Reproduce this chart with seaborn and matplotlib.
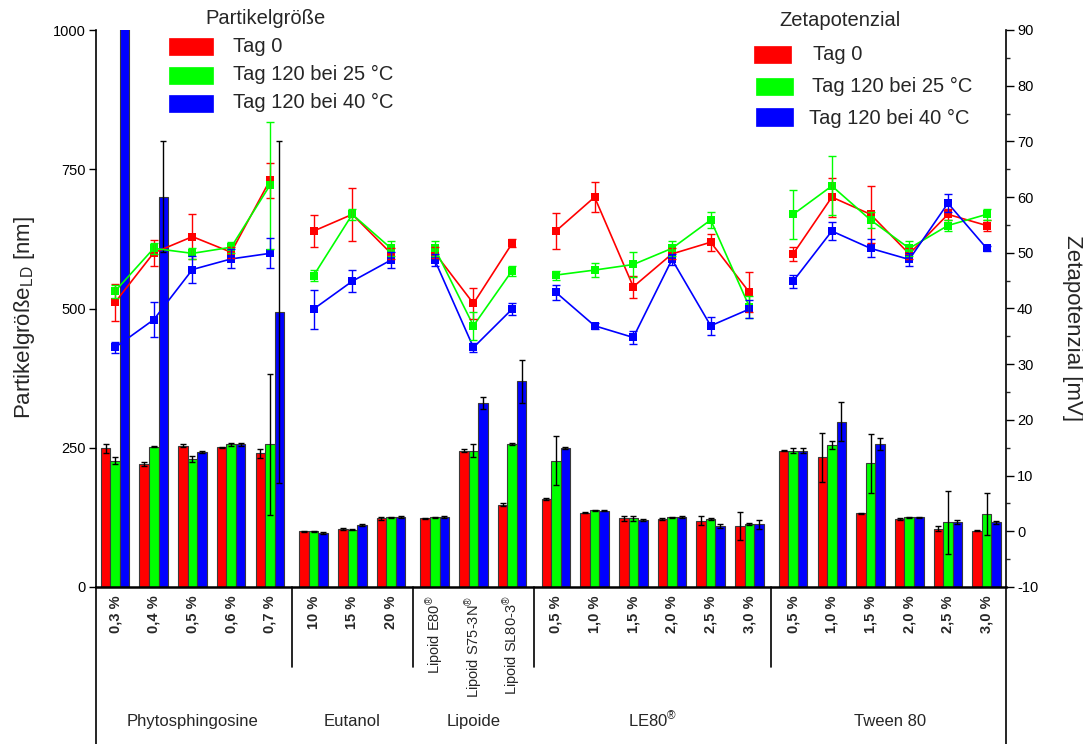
import numpy as np
import pandas as pd
import matplotlib
matplotlib.use("Agg")
import matplotlib.pyplot as plt
import seaborn as sns
from matplotlib.patches import Rectangle
from matplotlib.lines import Line2D
from matplotlib.ticker import MultipleLocator
import matplotlib.transforms as mtransforms

# ---------------- data ----------------
group_names = ["Phytosphingosine", "Eutanol", "Lipoide", "LE80$^{®}$", "Tween 80"]
group_sizes = [5, 3, 3, 6, 6]
tick_labels = ["0,3 %", "0,4 %", "0,5 %", "0,6 %", "0,7 %",
               "10 %", "15 %", "20 %",
               "Lipoid E80$^{®}$", "Lipoid S75-3N$^{®}$", "Lipoid SL80-3$^{®}$",
               "0,5 %", "1,0 %", "1,5 %", "2,0 %", "2,5 %", "3,0 %",
               "0,5 %", "1,0 %", "1,5 %", "2,0 %", "2,5 %", "3,0 %"]
series_names = ["Tag 0", "Tag 120 bei 25 °C", "Tag 120 bei 40 °C"]
series_colors = ["#FF0000", "#00FF00", "#0000FF"]

# particle size (nm), left axis, bars
size_t0 = [249, 221, 254, 251, 240, 100, 104, 123, 123, 245, 148, 158, 133, 123, 122, 119, 110, 245, 233, 132, 122, 105, 101]
size_t0_err = [8, 3, 3, 1, 8, 1, 2, 2, 1, 2, 2, 2, 1, 5, 1, 8, 25, 1, 44, 1, 1, 5, 1]
size_t25 = [227, 252, 230, 256, 256, 100, 103, 125, 125, 245, 257, 227, 138, 123, 125, 122, 113, 245, 255, 222, 125, 116, 131]
size_t25_err = [7, 1, 5, 2, 127, 1, 1, 1, 1, 11, 2, 44, 1, 4, 1, 1, 2, 5, 8, 53, 1, 57, 38]
size_t40 = [1240, 701, 243, 256, 493, 97, 111, 126, 126, 331, 369, 250, 137, 120, 125, 110, 113, 245, 297, 257, 125, 117, 116]
size_t40_err = [0, 100, 2, 3, 307, 1, 2, 2, 2, 11, 39, 2, 1, 2, 2, 4, 8, 4, 35, 11, 1, 3, 2]

# zeta potential (mV), right axis, lines
zeta_t0 = [41.1, 50.0, 52.9, 50.1, 63.0, 53.9, 56.9, 49.9, 50.0, 40.9, 51.7, 53.9, 60.0, 43.9, 49.8, 51.9, 42.9, 49.8, 60.0, 56.9, 49.8, 56.9, 54.9]
zeta_t0_err = [3.3, 2.3, 4.1, 1.0, 3.1, 2.8, 4.8, 1.0, 1.0, 2.7, 0.7, 3.2, 2.7, 2.0, 1.0, 1.5, 3.6, 1.2, 3.5, 5.1, 1.0, 1.0, 1.0]
zeta_t25 = [43.1, 50.8, 49.9, 51.0, 62.1, 45.9, 56.9, 50.8, 50.8, 36.9, 46.8, 46.0, 46.9, 47.9, 50.8, 55.9, 40.3, 56.9, 62.0, 55.9, 50.8, 54.9, 56.9]
zeta_t25_err = [1.2, 1.0, 1.0, 1.0, 11.4, 1.0, 1.0, 1.4, 1.4, 2.5, 0.9, 0.8, 1.3, 2.2, 1.3, 1.5, 2.0, 4.4, 5.3, 1.5, 1.3, 1.0, 1.0]
zeta_t40 = [33.0, 38.0, 47.0, 48.9, 49.9, 39.9, 44.9, 48.7, 48.7, 33.0, 39.9, 42.9, 36.9, 34.8, 48.8, 36.9, 39.9, 44.9, 53.9, 50.8, 48.8, 58.9, 50.8]
zeta_t40_err = [1.0, 3.2, 2.4, 1.7, 2.7, 3.5, 2.0, 1.4, 1.0, 0.8, 1.0, 1.4, 0.5, 1.2, 1.0, 1.6, 1.6, 1.2, 1.6, 1.6, 1.2, 1.6, 0.5]

# ---------------- build tables ----------------
group_idx = np.repeat(np.arange(len(group_sizes)), group_sizes)
GAP = 0.13
pos = np.arange(len(tick_labels)) + GAP * group_idx

sizes = [size_t0, size_t25, size_t40]
size_errs = [size_t0_err, size_t25_err, size_t40_err]
zetas = [zeta_t0, zeta_t25, zeta_t40]
zeta_errs = [zeta_t0_err, zeta_t25_err, zeta_t40_err]

df_size = pd.concat([pd.DataFrame({"pos": pos, "size": s, "series": n})
                     for s, n in zip(sizes, series_names)], ignore_index=True)
df_zeta = pd.concat([pd.DataFrame({"pos": pos, "zeta": z, "series": n, "group": group_idx})
                     for z, n in zip(zetas, series_names)], ignore_index=True)
palette = dict(zip(series_names, series_colors))

# ---------------- figure ----------------
sns.set_style("ticks")
plt.rcParams["font.family"] = ["Liberation Sans", "DejaVu Sans"]
plt.rcParams["mathtext.default"] = "regular"
plt.rcParams["axes.unicode_minus"] = False

W, H = 1083, 744
fig = plt.figure(figsize=(W / 100, H / 100), dpi=100)
L, R, T, B = 95.7, 1006, 30, 587
ax = fig.add_axes([L / W, 1 - B / H, (R - L) / W, (B - T) / H])

sns.barplot(data=df_size, x="pos", y="size", hue="series", hue_order=series_names,
            palette=palette, native_scale=True, width=0.74, errorbar=None,
            saturation=1, edgecolor="#3a3a3a", linewidth=0.8, legend=False, ax=ax)

for cont, vals, errs in zip(ax.containers, sizes, size_errs):
    patches = sorted(cont.patches, key=lambda p: p.get_x())
    xs = [p.get_x() + p.get_width() / 2 for p in patches]
    ax.errorbar(xs, vals, yerr=errs, fmt="none", ecolor="black", elinewidth=1.0,
                capsize=2.5, capthick=1.0, zorder=5)

ax.set_xlim(pos[0] - 0.5, pos[-1] + 0.5)
ax.set_ylim(0, 1000)
ax.set_yticks([0, 250, 500, 750, 1000])
ax.tick_params(axis="y", direction="out", length=5, width=1, labelsize=10.5, pad=2, colors="black")
ax.set_xticks(pos)
ax.set_xticklabels(tick_labels, rotation=90)
ax.tick_params(axis="x", length=0, pad=6, labelsize=10.5)
for lbl, txt in zip(ax.get_xticklabels(), tick_labels):
    lbl.set_fontweight("normal" if txt.startswith("Lipoid") else "bold")
ax.set_xlabel("")
ax.set_ylabel("")
ax.spines["top"].set_visible(False)
ax.spines["right"].set_visible(False)
ax.spines["left"].set_color("black")
ax.spines["left"].set_linewidth(1.2)
ax.spines["bottom"].set_color("black")
ax.spines["bottom"].set_linewidth(1.8)

# zeta potential on right axis
ax2 = ax.twinx()
sns.lineplot(data=df_zeta, x="pos", y="zeta", hue="series", hue_order=series_names,
             palette=palette, units="group", estimator=None, marker="s",
             markersize=6, markeredgewidth=0, linewidth=1.2, legend=False, ax=ax2)
for z, ze, c in zip(zetas, zeta_errs, series_colors):
    ax2.errorbar(pos, z, yerr=ze, fmt="none", ecolor=c, elinewidth=1.0,
                 capsize=3, capthick=1.0)
ax2.set_ylim(-10, 90)
ax2.set_xlim(pos[0] - 0.5, pos[-1] + 0.5)
ax2.yaxis.set_major_locator(MultipleLocator(10))
ax2.yaxis.set_minor_locator(MultipleLocator(5))
ax2.tick_params(axis="y", which="major", direction="out", length=6, width=1, labelsize=10.5, pad=2, colors="black")
ax2.tick_params(axis="y", which="minor", direction="out", length=3, width=1)
ax2.set_ylabel("")
ax2.set_xlabel("")
ax2.spines["top"].set_visible(False)
ax2.spines["left"].set_visible(False)
ax2.spines["bottom"].set_visible(False)
ax2.spines["right"].set_color("black")
ax2.spines["right"].set_linewidth(1.2)

# axis labels
fig.text(25 / W, 1 - 318 / H, "Partikelgröße$_{LD}$ [nm]", rotation=90,
         ha="center", va="center", fontsize=16)
fig.text(1072 / W, 1 - 328 / H, "Zetapotenzial [mV]", rotation=270,
         ha="center", va="center", fontsize=16)

# group separators and group labels
trans = mtransforms.blended_transform_factory(ax.transData, ax.transAxes)
sep_depth = -(667 - B) / (B - T)
lab_y = -(726 - B) / (B - T)
start = 0
for gi, (gname, gs) in enumerate(zip(group_names, group_sizes)):
    gpos = pos[start:start + gs]
    ax.text(gpos.mean(), lab_y, gname, transform=trans, ha="center", va="baseline", fontsize=12)
    if gi < len(group_sizes) - 1:
        xsep = (pos[start + gs - 1] + pos[start + gs]) / 2
        ax.plot([xsep, xsep], [0, sep_depth], transform=trans, color="black", lw=1.2, clip_on=False)
    start += gs

# extended outer vertical lines
fig.add_artist(Line2D([L / W, L / W], [0, 1 - B / H], color="black", lw=1.2))
fig.add_artist(Line2D([R / W, R / W], [0, 1 - B / H], color="black", lw=1.2))

# legends (manual)
def legend_block(title, tx, ty, patches, texts_xy):
    fig.text(tx / W, 1 - ty / H, title, ha="left", va="center", fontsize=14.5)
    for (px, py, pw, ph), (lx, ly), name, c in zip(patches, texts_xy, series_names, series_colors):
        fig.add_artist(Rectangle((px / W, 1 - (py + ph) / H), pw / W, ph / H,
                                 facecolor=c, edgecolor=c, lw=0.5, transform=fig.transFigure))
        fig.text(lx / W, 1 - ly / H, name, ha="left", va="center", fontsize=14.5)

legend_block("Partikelgröße", 205, 19,
             [(169, 38, 44, 17), (169, 67, 44, 17), (169, 95, 44, 17)],
             [(233, 46), (233, 74), (233, 102)])
legend_block("Zetapotenzial", 779, 20,
             [(754, 46, 37, 17), (756, 78, 37, 17), (756, 108, 37, 18)],
             [(813, 54), (812, 86), (809, 118)])

fig.savefig("out.png", dpi=100)
